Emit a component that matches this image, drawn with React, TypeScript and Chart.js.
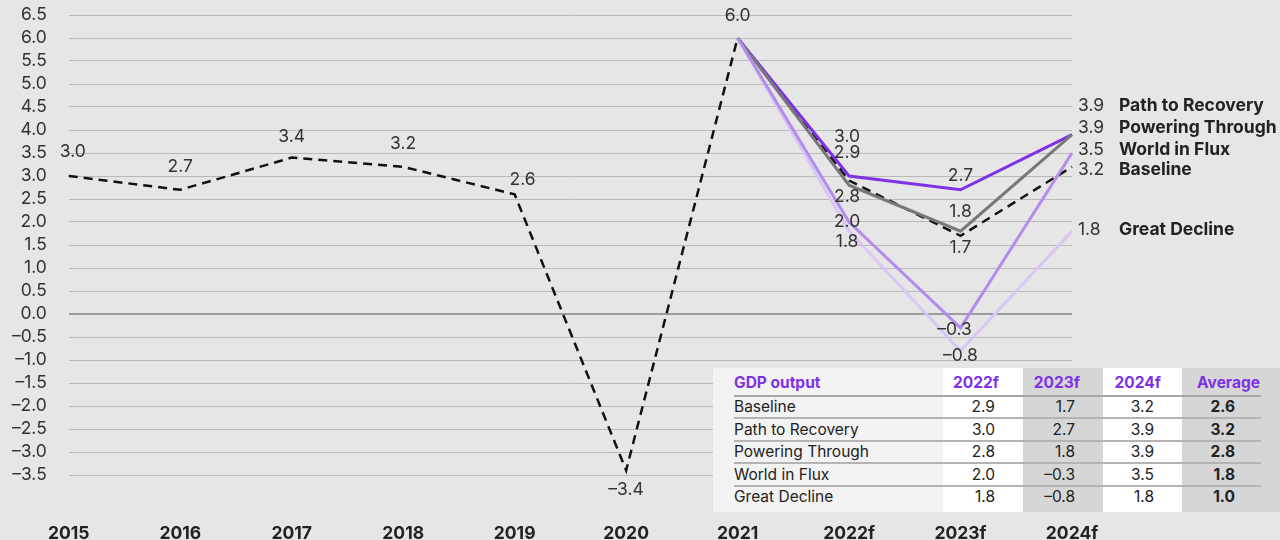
import React, { useEffect, useRef } from "react";
import { Chart, registerables } from "chart.js";

Chart.register(...registerables);

const categories = ["2015", "2016", "2017", "2018", "2019", "2020", "2021", "2022f", "2023f", "2024f"];
const baseline = [3.0, 2.7, 3.4, 3.2, 2.6, -3.4, 6.0, 2.9, 1.7, 3.2];
const pathToRecovery = [null, null, null, null, null, null, 6.0, 3.0, 2.7, 3.9];
const poweringThrough = [null, null, null, null, null, null, 6.0, 2.8, 1.8, 3.9];
const worldInFlux = [null, null, null, null, null, null, 6.0, 2.0, -0.3, 3.5];
const greatDecline = [null, null, null, null, null, null, 6.0, 1.8, -0.8, 1.8];
const scenarioNames = ["Baseline", "Path to Recovery", "Powering Through", "World in Flux", "Great Decline"];
const scenarioAverages = [2.6, 3.2, 2.8, 1.8, 1.0];
const tableHeaders = ["GDP output", "2022f", "2023f", "2024f", "Average"];

const PURPLE = "#7d32e6";
const fmt = (v: number) => (v < 0 ? "\u2013" : "") + Math.abs(v).toFixed(1);

// label placement (pixel offsets from the point), "R" = end label at right
type Off = [number, number] | "R" | null;
const labelOffsets: Off[][] = [
  [[4, -24], [0, -23], [0, -21], [0, -23], [8, -15], [0, 19], [0, -22], [-2, -28], [0, 12], "R"],
  [null, null, null, null, null, null, null, [-2, -39], [0, -14], "R"],
  [null, null, null, null, null, null, null, [-2, 12], [0, -19], "R"],
  [null, null, null, null, null, null, null, [-2, 0], [-6, 2], "R"],
  [null, null, null, null, null, null, null, [-2, 11], [0, 5], "R"],
];
const rightDy = [3, -29, -7, -3, -1];

const labelPlugin = {
  id: "valueLabels",
  afterDatasetsDraw(chart: any) {
    const ctx = chart.ctx;
    ctx.save();
    ctx.textBaseline = "middle";
    chart.data.datasets.forEach((ds: any, di: number) => {
      const meta = chart.getDatasetMeta(di);
      ds.data.forEach((v: number | null, i: number) => {
        const off = labelOffsets[di][i];
        if (v === null || off === null) return;
        const p = meta.data[i];
        if (off === "R") {
          const y = p.y + rightDy[di];
          ctx.font = "17.5px Inter";
          ctx.fillStyle = "#333";
          ctx.textAlign = "left";
          ctx.fillText(fmt(v), p.x + 6, y);
          ctx.font = "bold 17.5px Inter";
          ctx.fillStyle = "#222";
          ctx.fillText(scenarioNames[di], p.x + 47, y);
        } else {
          ctx.font = "17.5px Inter";
          ctx.fillStyle = "#333";
          ctx.textAlign = "center";
          ctx.fillText(fmt(v), p.x + off[0], p.y + off[1]);
        }
      });
    });
    ctx.restore();
  },
};

const colBounds = [0, 230, 310, 390, 469, 567];
const colBg = ["#f3f3f3", "#ffffff", "#d6d6d6", "#ffffff", "#d6d6d6"];
const valuePr = [28, 28, 28, 45];
const headerPr = [24, 23, 21, 20];
const rowCenters = [39, 62, 84, 107, 129];
const lineYs = [28, 50, 73, 95, 118];

function GdpTable() {
  const series = [baseline, pathToRecovery, poweringThrough, worldInFlux, greatDecline];
  const cells: React.ReactNode[] = [];
  colBg.forEach((bg, c) => {
    cells.push(
      <div key={"bg" + c} style={{ position: "absolute", left: colBounds[c], top: 0, width: colBounds[c + 1] - colBounds[c], height: 144, background: bg }} />
    );
  });
  lineYs.forEach((y, i) => {
    cells.push(
      <div key={"ln" + i} style={{ position: "absolute", left: 21, top: y - 1, width: 567 - 21 - 19, height: 2, background: i === 0 ? "#a6a6a6" : "#b4b4b4" }} />
    );
  });
  const txt = (key: string, c: number, cy: number, text: string, bold: boolean, color: string, pr: number | null) => {
    const left = colBounds[c];
    const w = colBounds[c + 1] - colBounds[c];
    cells.push(
      <div
        key={key}
        style={{
          position: "absolute",
          left: pr === null ? left + 21 : left,
          width: pr === null ? w - 21 : w - pr,
          top: cy - 11,
          height: 22,
          lineHeight: "22px",
          textAlign: pr === null ? "left" : "right",
          fontFamily: "Inter",
          fontSize: 15.5,
          fontWeight: bold ? 700 : 400,
          color,
          whiteSpace: "nowrap",
        }}
      >
        {text}
      </div>
    );
  };
  tableHeaders.forEach((h, c) => txt("h" + c, c, 15, h, true, PURPLE, c === 0 ? null : headerPr[c - 1]));
  scenarioNames.forEach((name, r) => {
    txt("n" + r, 0, rowCenters[r], name, false, "#222", null);
    const s = series[r];
    [7, 8, 9].forEach((idx, k) => txt("v" + r + k, k + 1, rowCenters[r], fmt(s[idx] as number), false, "#222", valuePr[k]));
    txt("a" + r, 4, rowCenters[r], fmt(scenarioAverages[r]), true, "#222", valuePr[3]);
  });
  return <div style={{ position: "absolute", left: 713, top: 368, width: 567, height: 144 }}>{cells}</div>;
}

export default function App() {
  const ref = useRef<HTMLCanvasElement>(null);
  useEffect(() => {
    if (!ref.current) return;
    const mk = (label: string, data: any[], color: string, order: number, dash: number[] = [], width = 3) => ({
      label,
      data,
      borderColor: color,
      backgroundColor: color,
      borderWidth: width,
      borderDash: dash,
      pointRadius: 0,
      tension: 0,
      fill: false,
      order,
    });
    const chart = new Chart(ref.current, {
      type: "line",
      data: {
        labels: categories,
        datasets: [
          mk(scenarioNames[0], baseline, "#111111", 3, [9, 6], 2.5),
          mk(scenarioNames[1], pathToRecovery, PURPLE, 2),
          mk(scenarioNames[2], poweringThrough, "#787878", 1),
          mk(scenarioNames[3], worldInFlux, "#b48cec", 0),
          mk(scenarioNames[4], greatDecline, "#d9c5f6", 4),
        ],
      },
      options: {
        animation: false,
        responsive: false,
        maintainAspectRatio: false,
        layout: { padding: { top: 0, right: 208, left: 0, bottom: 0 } },
        plugins: { legend: { display: false }, tooltip: { enabled: false } },
        scales: {
          x: {
            offset: false,
            grid: { display: false, drawTicks: false },
            border: { display: false },
            afterFit: (s: any) => { s.height = 65; },
            ticks: {
              padding: 48,
              maxRotation: 0,
              autoSkip: false,
              color: "#222",
              font: { family: "Inter", size: 17.5, weight: "bold" },
            },
          },
          y: {
            min: -3.5,
            max: 6.5,
            afterFit: (s: any) => {
              s.width = 60;
              s.paddingTop = 15;
              s.paddingBottom = 0;
            },
            border: { display: false },
            grid: {
              drawTicks: false,
              color: (c: any) => (c.tick && c.tick.value === 0 ? "#9c9c9c" : "#b9b9b9"),
              lineWidth: (c: any) => (c.tick && c.tick.value === 0 ? 2 : 1),
            },
            ticks: {
              stepSize: 0.5,
              autoSkip: false,
              padding: 22,
              color: "#333",
              font: { family: "Inter", size: 17.5 },
              callback: (v: any) => fmt(Number(v)),
            },
          },
        },
      },
      plugins: [labelPlugin],
    } as any);
    return () => chart.destroy();
  }, []);
  return (
    <div style={{ position: "fixed", left: 0, top: 0, width: 1280, height: 540, background: "#e6e6e6", overflow: "hidden" }}>
      <canvas ref={ref} width={1280} height={540} style={{ position: "absolute", left: 0, top: 0, width: 1280, height: 540 }} />
      <GdpTable />
    </div>
  );
}
